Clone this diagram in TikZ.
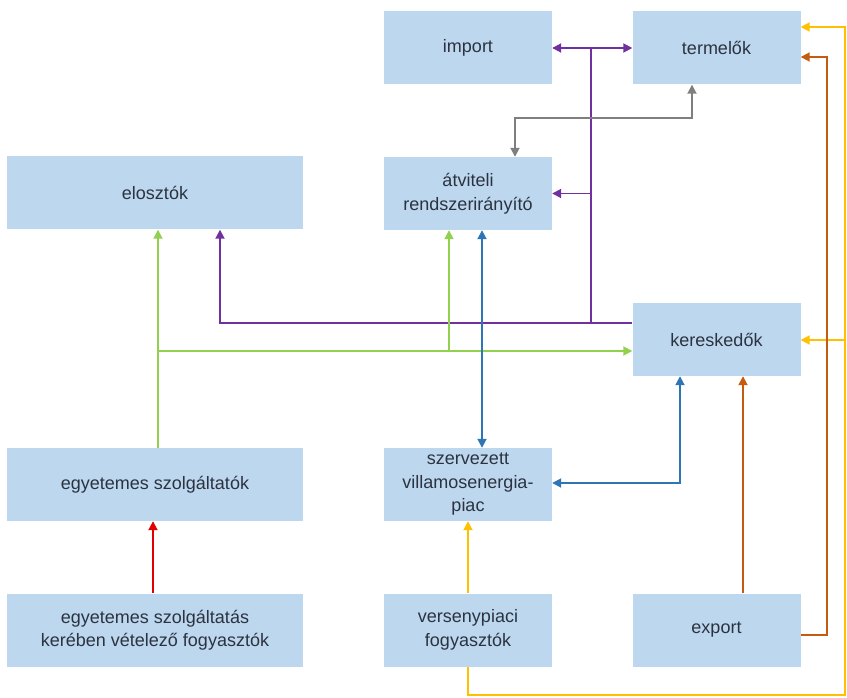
\documentclass[tikz,border=0pt]{standalone}
\usepackage{fontspec}
\setmainfont{Liberation Sans}
\usetikzlibrary{arrows.meta}
\definecolor{boxfill}{HTML}{BDD7EE}
\definecolor{txt}{HTML}{2B3340}
\definecolor{cpurp}{HTML}{7030A0}
\definecolor{cgray}{HTML}{7F7F7F}
\definecolor{cgreen}{HTML}{92D050}
\definecolor{cblue}{HTML}{2E75B6}
\definecolor{cred}{HTML}{E00000}
\definecolor{cyell}{HTML}{FFC000}
\definecolor{cbrown}{HTML}{C55A11}
\begin{document}
\begin{tikzpicture}[x=1pt,y=-1pt,
  box/.style={fill=boxfill,draw=none,minimum width=168pt,minimum height=73pt,
    align=center,text=txt,font=\fontsize{18}{23.5}\selectfont,inner sep=2pt},
  widebox/.style={box,minimum width=296pt},
  conn/.style={line width=1.8pt,-{Triangle[length=9pt,width=9pt]}},
  biconn/.style={line width=1.8pt,{Triangle[length=9pt,width=9pt]}-{Triangle[length=9pt,width=9pt]}},
  plain/.style={line width=1.8pt}]
\useasboundingbox (0,0) rectangle (847,698);
% boxes
\node[box] (import) at (468,48) {import};
\node[box] (termelok) at (716.5,48) {termelők};
\node[widebox] (elosztok) at (155,193) {elosztók};
\node[box] (atviteli) at (468,193.5) {átviteli\\rendszerirányító};
\node[box] (keresk) at (716.5,339.5) {kereskedők};
\node[box] (szerv) at (468,484.5) {szervezett\\villamosenergia-\\piac};
\node[widebox] (egyszolg) at (155,484.5) {egyetemes szolgáltatók};
\node[widebox] (egyfogy) at (155,630) {egyetemes szolgáltatás\\kerében vételező fogyasztók};
\node[box] (verseny) at (468,630) {versenypiaci\\fogyasztók};
\node[box] (export) at (716.5,630) {export};
% coordinates
\coordinate (pTop) at (591,48);
\coordinate (pBot) at (591,323);
\coordinate (gL) at (158,351);
\coordinate (gM) at (449,351);
\coordinate (yB1) at (468,695);
\coordinate (yB2) at (845,695);
\coordinate (yT) at (845,27);
\coordinate (yK) at (845,340);
\coordinate (bB) at (827,635);
\coordinate (bT) at (827,57);
% purple
\draw[biconn,cpurp] (import.east) -- (termelok.west);
\draw[plain,cpurp] (pTop) -- (pBot);
\draw[conn,cpurp] (pTop |- atviteli.east) -- (atviteli.east);
\draw[conn,cpurp] ([yshift=16.5pt]keresk.west) -| ([xshift=65pt]elosztok.south);
% gray
\draw[biconn,cgray] ([xshift=47pt]atviteli.north) -- ++(0,-39) -| ([xshift=-24.5pt]termelok.south);
% green
\draw[conn,cgreen] ([xshift=3pt]egyszolg.north) -- ([xshift=3pt]elosztok.south);
\draw[conn,cgreen] (gL) -- (gL -| keresk.west);
\draw[conn,cgreen] (gM) -- ([xshift=-19pt]atviteli.south);
% blue
\draw[biconn,cblue] ([xshift=14pt]atviteli.south) -- ([xshift=14pt]szerv.north);
\draw[biconn,cblue] ([yshift=1.5pt]szerv.east) -| ([xshift=-36.5pt]keresk.south);
% red
\draw[conn,cred] ([xshift=-2pt]egyfogy.north) -- ([xshift=-2pt]egyszolg.south);
% yellow
\draw[conn,cyell] (verseny.north) -- (szerv.south);
\draw[conn,cyell] (verseny.south) -- (yB1) -- (yB2) -- (yT) -- (yT -| termelok.east);
\draw[conn,cyell] (yK) -- (yK -| keresk.east);
% brown
\draw[conn,cbrown] (bB -| export.east) -- (bB) -- (bT) -- (bT -| termelok.east);
\draw[conn,cbrown] ([xshift=26.5pt]export.north) -- ([xshift=26.5pt]keresk.south);
\end{tikzpicture}
\end{document}
